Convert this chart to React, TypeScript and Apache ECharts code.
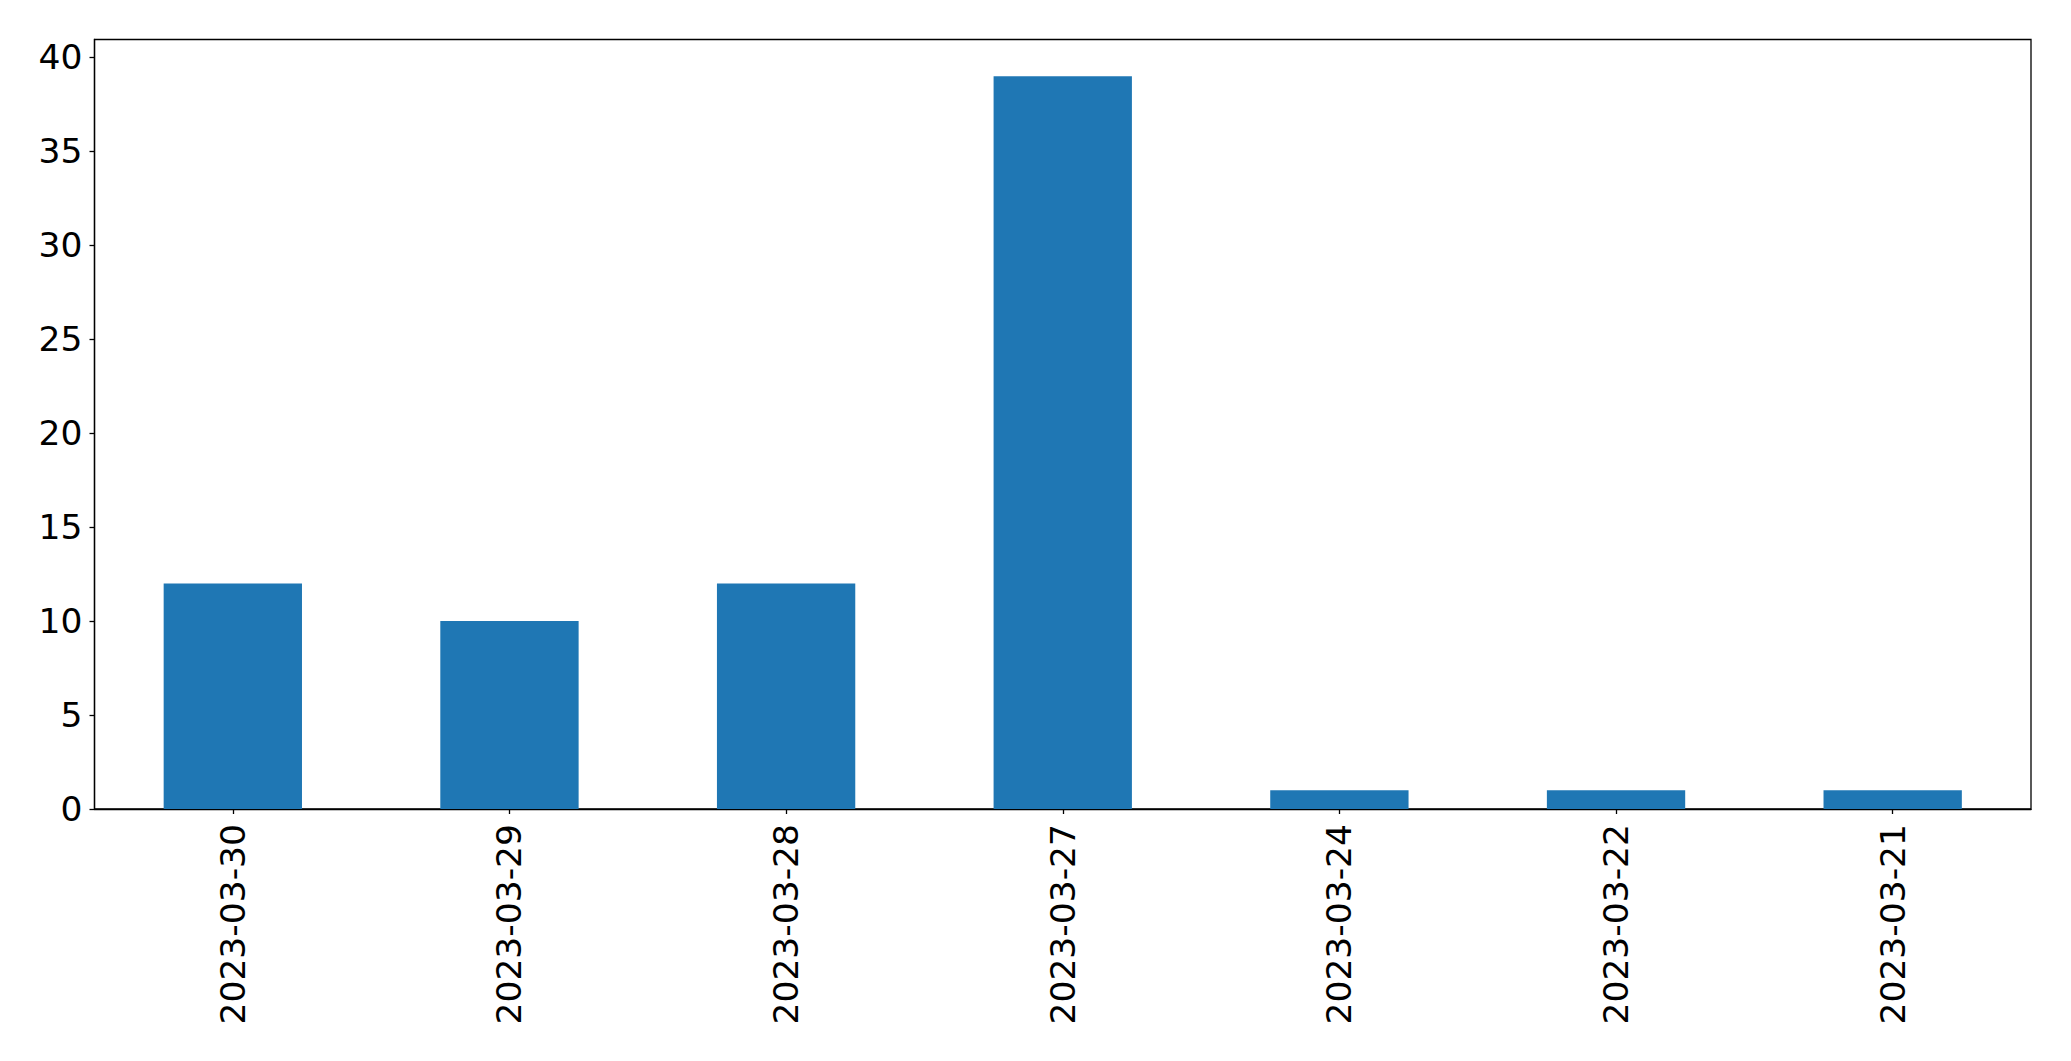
import React, { useEffect, useRef } from "react";
import * as echarts from "echarts";

const categories = ["2023-03-30", "2023-03-29", "2023-03-28", "2023-03-27", "2023-03-24", "2023-03-22", "2023-03-21"];
const counts = [12, 10, 12, 39, 1, 1, 1];
const yTicks = [0, 5, 10, 15, 20, 25, 30, 35, 40];
const yMax = 40.95;

export default function App() {
  const ref = useRef<HTMLDivElement>(null);
  useEffect(() => {
    if (!ref.current) return;
    const chart = echarts.init(ref.current, null, { renderer: "svg" });
    const font = "DejaVu Sans";
    chart.setOption({
      animation: false,
      backgroundColor: "#ffffff",
      grid: {
        left: 94.5,
        top: 39.5,
        width: 1936.5,
        height: 769.5,
        show: true,
        borderColor: "#000000",
        borderWidth: 1.3,
        containLabel: false,
      },
      xAxis: {
        type: "category",
        data: categories,
        boundaryGap: true,
        axisLine: { show: true, lineStyle: { color: "#000000", width: 1.3 } },
        axisTick: { show: true, alignWithLabel: true, length: 5, lineStyle: { color: "#000000", width: 1.3 } },
        axisLabel: {
          rotate: 90,
          margin: 15,
          interval: 0,
          fontSize: 34.5,
          fontFamily: font,
          color: "#000000",
        },
        splitLine: { show: false },
      },
      yAxis: {
        type: "value",
        min: 0,
        max: yMax,
        axisLine: { show: true, lineStyle: { color: "#000000", width: 1.3 } },
        axisTick: { show: true, length: 5, lineStyle: { color: "#000000", width: 1.3 }, customValues: yTicks },
        axisLabel: {
          margin: 12,
          fontSize: 34.5,
          fontFamily: font,
          color: "#000000",
          customValues: yTicks,
        },
        splitLine: { show: false },
      },
      series: [
        {
          type: "bar",
          data: counts,
          barWidth: "50%",
          itemStyle: { color: "#1f77b4" },
        },
      ],
    });
    return () => chart.dispose();
  }, []);
  return (
    <div
      ref={ref}
      style={{ position: "absolute", left: 0, top: 0, width: 2071, height: 1061 }}
    />
  );
}
